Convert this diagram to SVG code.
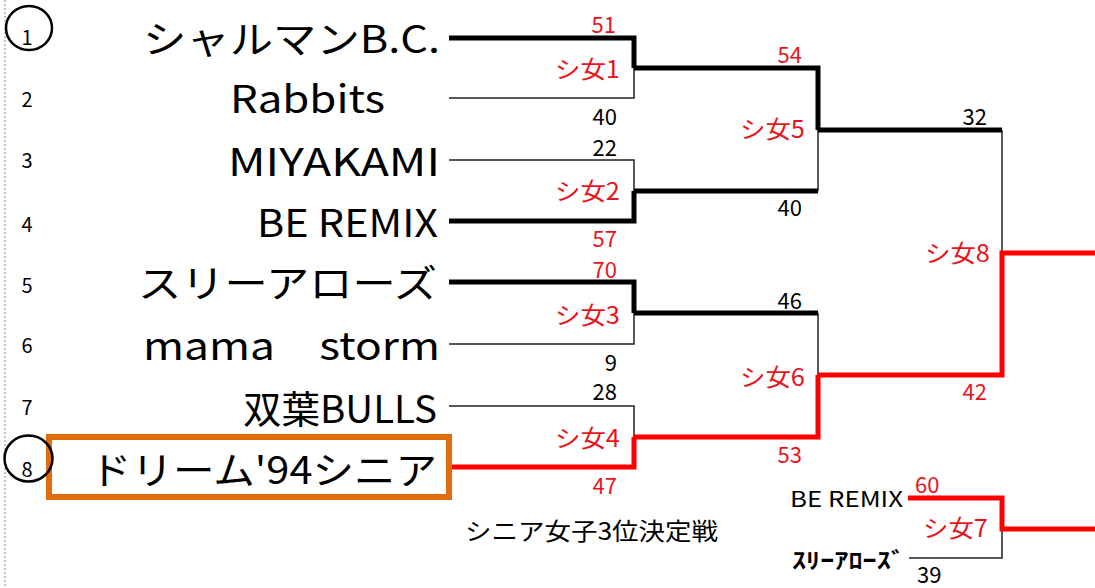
<svg xmlns="http://www.w3.org/2000/svg" width="1095" height="588" viewBox="0 0 1095 588">
<style>
text{font-family:"Noto Sans CJK JP","Noto Sans",sans-serif;fill:#000}
.name{font-size:38px}
.num{font-size:20px;text-anchor:middle}
.sc{font-size:22px;text-anchor:end}
.scr{font-size:22px;fill:#E8141B}
.mt{font-size:24px;fill:#E8141B}
.thin{stroke:#222;stroke-width:1.5;fill:none}
.thk{stroke:#000;stroke-width:5;fill:none}
.red{stroke:#FF0000;stroke-width:5;fill:none}
</style>
<rect width="1095" height="588" fill="#fff"/>
<line x1="5" y1="0" x2="5" y2="588" stroke="#888" stroke-width="1" stroke-dasharray="2,2"/>
<g id="team1"><text class="name" x="143" y="53" textLength="297" lengthAdjust="spacingAndGlyphs">シャルマンB.C.</text></g>
<g id="team2"><text class="name" x="230" y="113" textLength="155" lengthAdjust="spacingAndGlyphs">Rabbits</text></g>
<g id="team3"><text class="name" x="228" y="176" textLength="212" lengthAdjust="spacingAndGlyphs">MIYAKAMI</text></g>
<g id="team4"><text class="name" x="257" y="237" textLength="181" lengthAdjust="spacingAndGlyphs">BE REMIX</text></g>
<g id="team5"><text class="name" x="138" y="297" textLength="299" lengthAdjust="spacingAndGlyphs">スリーアローズ</text></g>
<g id="team6"><text class="name" x="143" y="360" textLength="297" lengthAdjust="spacingAndGlyphs">mama　storm</text></g>
<g id="team7"><text class="name" x="243" y="423" textLength="194" lengthAdjust="spacingAndGlyphs">双葉BULLS</text></g>
<g id="team8">
<rect x="49" y="437" width="400" height="60" fill="none" stroke="#E36C0A" stroke-width="6"/>
<text class="name" x="90" y="484" textLength="347" lengthAdjust="spacingAndGlyphs">ドリーム'94シニア</text>
</g>
<g id="seeds">
<ellipse cx="29" cy="28" rx="23" ry="22" fill="none" stroke="#000" stroke-width="2.5"/>
<ellipse cx="28.5" cy="458.5" rx="24" ry="23" fill="none" stroke="#000" stroke-width="2.5"/>
<text class="num" x="27" y="45">1</text>
<text class="num" x="27" y="107">2</text>
<text class="num" x="27" y="168">3</text>
<text class="num" x="27" y="232">4</text>
<text class="num" x="27" y="293">5</text>
<text class="num" x="27" y="353">6</text>
<text class="num" x="27" y="415">7</text>
<text class="num" x="27" y="477">8</text>
</g>
<g id="connectors">
<path class="thin" d="M449,98 H634 V68"/>
<path class="thk" d="M449,38 H634 V68"/>
<path class="thin" d="M449,160 H634 V191"/>
<path class="thk" d="M449,221 H634 V191"/>
<path class="thin" d="M449,344 H634 V313"/>
<path class="thk" d="M449,282 H634 V313"/>
<path class="thin" d="M449,406 H634 V437"/>
<path class="red" d="M452,467 H634 V437"/>
<path class="thin" d="M818,191 V130"/>
<path class="thk" d="M634,68 H818 V130"/>
<path class="thk" d="M634,191 H818"/>
<path class="thin" d="M818,313 V375"/>
<path class="thk" d="M634,313 H818"/>
<path class="red" d="M634,437 H818 V375"/>
<path class="thin" d="M1002,130 V253"/>
<path class="thk" d="M818,130 H1002"/>
<path class="red" d="M818,375 H1002 V253 H1095"/>
<path class="thin" d="M909,558 H1002 V529"/>
<path class="red" d="M908,498 H1002 V529 H1095" stroke-width="4"/>
</g>
<g id="m1">
<text class="scr" x="616" y="33" text-anchor="end">51</text>
<text class="mt" x="555" y="78" textLength="65" lengthAdjust="spacingAndGlyphs">シ女1</text>
<text class="sc" x="617" y="125">40</text>
</g>
<g id="m2">
<text class="sc" x="617" y="156">22</text>
<text class="mt" x="555" y="200" textLength="65" lengthAdjust="spacingAndGlyphs">シ女2</text>
<text class="scr" x="617" y="247" text-anchor="end">57</text>
</g>
<g id="m3">
<text class="scr" x="617" y="278" text-anchor="end">70</text>
<text class="mt" x="555" y="324" textLength="65" lengthAdjust="spacingAndGlyphs">シ女3</text>
<text class="sc" x="617" y="371">9</text>
</g>
<g id="m4">
<text class="sc" x="617" y="400">28</text>
<text class="mt" x="555" y="447" textLength="65" lengthAdjust="spacingAndGlyphs">シ女4</text>
<text class="scr" x="617" y="494" text-anchor="end">47</text>
</g>
<g id="m5">
<text class="scr" x="802" y="63" text-anchor="end">54</text>
<text class="mt" x="740" y="138" textLength="65" lengthAdjust="spacingAndGlyphs">シ女5</text>
<text class="sc" x="802" y="216">40</text>
</g>
<g id="m6">
<text class="sc" x="802" y="309">46</text>
<text class="mt" x="740" y="386" textLength="65" lengthAdjust="spacingAndGlyphs">シ女6</text>
<text class="scr" x="802" y="463" text-anchor="end">53</text>
</g>
<g id="m8">
<text class="sc" x="987" y="125">32</text>
<text class="mt" x="925" y="262" textLength="65" lengthAdjust="spacingAndGlyphs">シ女8</text>
<text class="scr" x="987" y="400" text-anchor="end">42</text>
</g>
<g id="m7">
<text x="465" y="540" font-size="24" textLength="253" lengthAdjust="spacingAndGlyphs">シニア女子3位決定戦</text>
<text x="790" y="507" font-size="22" textLength="113" lengthAdjust="spacingAndGlyphs">BE REMIX</text>
<text x="792" y="568" font-size="22" font-weight="bold" textLength="113" lengthAdjust="spacingAndGlyphs">ｽﾘｰｱﾛｰｽﾞ</text>
<text class="scr" x="915" y="493">60</text>
<text class="mt" x="923" y="537" textLength="65" lengthAdjust="spacingAndGlyphs">シ女7</text>
<text x="917" y="583" font-size="22">39</text>
</g>
</svg>
